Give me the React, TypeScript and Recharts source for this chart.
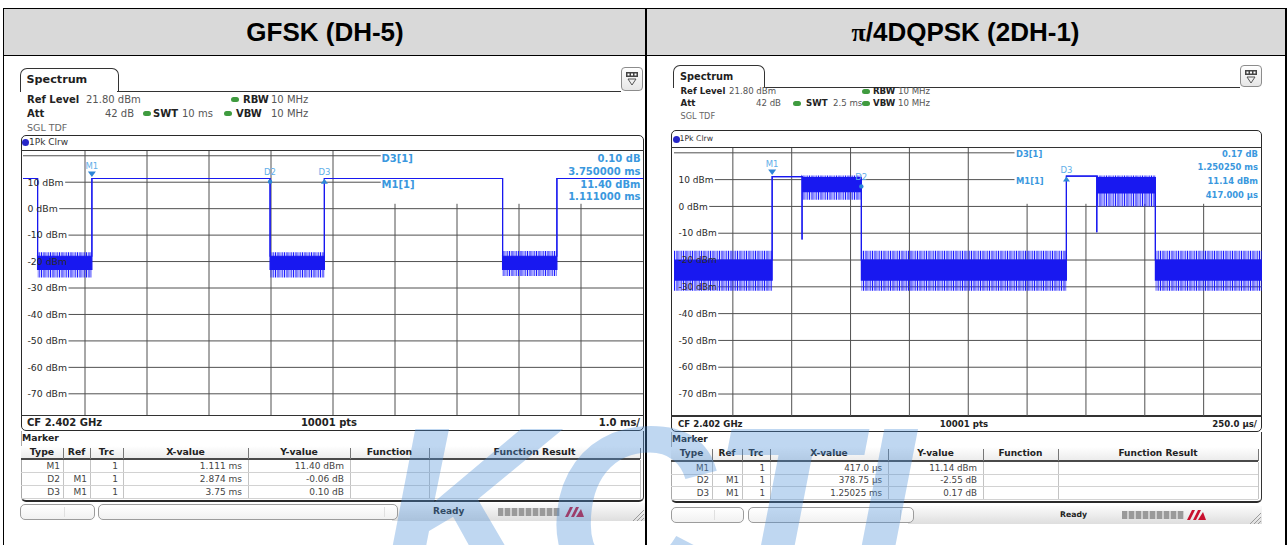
import React from 'react'
import { ComposedChart, Area, XAxis, YAxis, ReferenceLine, ReferenceDot } from 'recharts'

const FONT = '"DejaVu Sans", Verdana, sans-serif'
const TRACE = '#1818f0'
const GRID = '#505050'
const INFO = '#3a98de'
const MARK_SYM = '#2f86d6'
const MARK_TXT = '#62aee8'

// both screens: ref level 21.80 dBm, 10 dB/div
const levelDomain = [-78.2, 21.8]
const dbTicks = [10, 0, -10, -20, -30, -40, -50, -60, -70]
const gridLevels = [20, ...dbTicks]

// GFSK (DH-5), zero span, 1.0 ms/div
const gfskTime = [0, 0.235, 0.235, 1.111, 1.111, 3.985, 3.985, 4.861, 4.861, 7.735, 7.735, 8.611, 8.611, 10]
const gfskCoreLow = [11.4, 11.4, -23, -23, 11.4, 11.4, -23, -23, 11.4, 11.4, -23, -23, 11.4, 11.4]
const gfskCoreHigh = [11.4, 11.4, -18, -18, 11.4, 11.4, -18, -18, 11.4, 11.4, -18, -18, 11.4, 11.4]
const gfskPeakLow = [11.4, 11.4, -26, -26, 11.4, 11.4, -26, -26, 11.4, 11.4, -25.5, -25.5, 11.4, 11.4]
const gfskPeakHigh = [11.4, 11.4, -16.5, -16.5, 11.4, 11.4, -16.5, -16.5, 11.4, 11.4, -16, -16, 11.4, 11.4]
const gfskMarkNames = ['M1', 'D2', 'D3']
const gfskMarkTime = [1.111, 3.985, 4.861]
const gfskMarkLevel = [11.4, 11.34, 11.5]
const gfskInfo = ['D3[1]', 'M1[1]', '0.10 dB', '3.750000 ms', '11.40 dBm', '1.111000 ms']
const gfskRows = [
  ['M1', '', '1', '1.111 ms', '11.40 dBm'],
  ['D2', 'M1', '1', '2.874 ms', '-0.06 dB'],
  ['D3', 'M1', '1', '3.75 ms', '0.10 dB'],
]

// pi/4DQPSK (2DH-1), zero span, 250 us/div (time in ms)
const qpskTime = [0, 0.417, 0.417, 0.544, 0.544, 0.544, 0.546, 0.796, 0.796, 1.667, 1.667, 1.796, 1.796, 1.796, 1.798, 2.045, 2.045, 2.5]
const qpskCoreLow = [-27.5, -27.5, 11.14, 11.14, -12.3, 11.1, 5.5, 5.5, -27.5, -27.5, 11.31, 11.31, -9.6, 11.3, 5, 5, -27.5, -27.5]
const qpskCoreHigh = [-20, -20, 11.14, 11.14, -12.3, 11.1, 10.8, 10.8, -20, -20, 11.31, 11.31, -9.6, 11.3, 10.8, 10.8, -20, -20]
const qpskPeakLow = [-31.5, -31.5, 11.14, 11.14, -12.3, 11.1, 2.5, 2.5, -31.5, -31.5, 11.31, 11.31, -9.6, 11.3, 0, 0, -31.5, -31.5]
const qpskPeakHigh = [-16.5, -16.5, 11.14, 11.14, -12.3, 11.1, 11.5, 11.5, -16.5, -16.5, 11.31, 11.31, -9.6, 11.3, 11.5, 11.5, -16.5, -16.5]
const qpskMarkNames = ['M1', 'D2', 'D3']
const qpskMarkTime = [0.417, 0.79575, 1.66725]
const qpskMarkLevel = [11.14, 8.59, 11.31]
const qpskInfo = ['D3[1]', 'M1[1]', '0.17 dB', '1.250250 ms', '11.14 dBm', '417.000 µs']
const qpskRows = [
  ['M1', '', '1', '417.0 µs', '11.14 dBm'],
  ['D2', 'M1', '1', '378.75 µs', '-2.55 dB'],
  ['D3', 'M1', '1', '1.25025 ms', '0.17 dB'],
]

const tableHeads = ['Type', 'Ref', 'Trc', 'X-value', 'Y-value', 'Function', 'Function Result']

const buildTrace = (time: number[], cl: number[], ch: number[], pl: number[], ph: number[]) =>
  time.map((t, i) => ({ t, core: [cl[i], ch[i]], peak: [pl[i], ph[i]] }))

const gfskData = buildTrace(gfskTime, gfskCoreLow, gfskCoreHigh, gfskPeakLow, gfskPeakHigh)
const qpskData = buildTrace(qpskTime, qpskCoreLow, qpskCoreHigh, qpskPeakLow, qpskPeakHigh)

// screen geometry (page pixels)
const leftGeo = {
  fs: 10, tick: 9.3, info: 10, tbl: 9.3,
  tab: { x: 19.5, y: 68, w: 99, h: 23 }, lineEnd: 621,
  icon: { x: 621, y: 66.5, w: 22, h: 24 },
  rows: [99.3, 113.3, 128],
  refV: 86, rbwDot: 235, rbw: 243, rbwV: 271, attR: 134, swtDot: 147, swt: 153, swtV: 182, vbwDot: 228, vbw: 236, vbwV: 271,
  frame: { x: 20.5, y: 135, w: 623, h: 295.5 }, trcY: 142.5,
  grid: { x: 22.5, y: 150.5, w: 620, h: 264.5 },
  cfY: 422.8, cfX: 27, ptsX: 329, divR: 640,
  markY: 438.5, head: [445.5, 459.5], rowH: 13, bottom: 501.5,
  cols: [21, 63, 90, 123, 248, 350, 429, 640],
  st: { y: 504, h: 16, b1: [20, 95], b2: [98, 398], ready: 433, prog: 498, logo: 562, right: 645 },
  infoX: 381.5, infoR: 640.5, infoY: [158.3, 171, 184, 196.7],
  xMax: 10, xStep: 1, boxStart: 5.77, boxBottom: 1.84,
}

const rightGeo = {
  fs: 8.6, tick: 9, info: 8.4, tbl: 9,
  tab: { x: 673, y: 65, w: 92, h: 22 }, lineEnd: 1240,
  icon: { x: 1240, y: 64.5, w: 22, h: 22 },
  rows: [91.7, 103.3, 116.7],
  refV: 729, rbwDot: 866, rbw: 873, rbwV: 898, attR: 781, swtDot: 797, swt: 806, swtV: 833, vbwDot: 866, vbw: 873, vbwV: 898,
  frame: { x: 671, y: 130, w: 591, h: 301.5 }, trcY: 139,
  grid: { x: 673.5, y: 147.5, w: 588.5, h: 268 },
  cfY: 424.5, cfX: 678, ptsX: 964, divR: 1257,
  markY: 440, head: [447, 461.5], rowH: 12.5, bottom: 503,
  cols: [671, 712, 742, 770, 888, 983, 1058, 1258],
  st: { y: 506.5, h: 16.5, b1: [671, 744], b2: [748, 914], ready: 1060, prog: 1122, logo: 1184, right: 1262 },
  infoX: 1016, infoR: 1258, infoY: [154.3, 167.7, 181.7, 195],
  xMax: 2.5, xStep: 0.25, boxStart: 1.4465, boxBottom: 0.98,
}

const CW: Record<string, number> = { '-': 0.361, ' ': 0.318, d: 0.635, B: 0.686, m: 0.974 }
const textW = (s: string, fs: number) => [...s].reduce((a, ch) => a + (CW[ch] ?? 0.636) * fs, 0)

function Txt({ x, y, s, children, align = 'l', bold = false, color = '#222', family = FONT, w = 400 }: any) {
  const h = s * 1.3
  const base: React.CSSProperties = {
    position: 'absolute', top: y - h / 2, height: h, lineHeight: `${h}px`, fontSize: s,
    fontFamily: family, fontWeight: bold ? 'bold' : 'normal', color, whiteSpace: 'nowrap',
  }
  if (align === 'r') return <div style={{ ...base, left: x - w, width: w, textAlign: 'right' }}>{children}</div>
  if (align === 'c') return <div style={{ ...base, left: x - w / 2, width: w, textAlign: 'center' }}>{children}</div>
  return <div style={{ ...base, left: x }}>{children}</div>
}

const box = (x: number, y: number, w: number, h: number, style: React.CSSProperties = {}) => (
  <div style={{ position: 'absolute', left: x, top: y, width: w, height: h, boxSizing: 'border-box', ...style }} />
)

function Glyph({ cx, cy, name }: any) {
  if (cx == null || cy == null) return null
  if (name === 'M1') {
    return (
      <g>
        <path d={`M${cx - 4},${cy - 7} L${cx + 4},${cy - 7} L${cx},${cy - 1.5} Z`} fill={MARK_SYM} />
        <text x={cx} y={cy - 10} textAnchor="middle" fontSize={8.5} fill={MARK_TXT} fontFamily={FONT}>M1</text>
      </g>
    )
  }
  return (
    <g>
      {name === 'D3'
        ? <path d={`M${cx - 3.5},${cy + 5.5} L${cx + 3.5},${cy + 5.5} L${cx},${cy + 0.5} Z`} fill={MARK_SYM} />
        : <circle cx={cx} cy={cy + 3} r={2.2} fill={MARK_SYM} />}
      <text x={cx} y={cy - 3.5} textAnchor="middle" fontSize={8.5} fill={MARK_TXT} fontFamily={FONT}>{name}</text>
    </g>
  )
}

function Screen({ id, g, data, names, times, levels, info, rows, swt, perDiv }: any) {
  const { grid, st } = g
  const span = g.xMax
  const toX = (px: number) => (px / grid.w) * span
  const hLines = gridLevels.map(v => {
    const from = v === 20 ? 0 : toX(4.5 + textW(`${v} dBm`, g.tick) + 1.5)
    const to = v >= 10 ? g.boxStart : span
    return (
      <ReferenceLine key={`h${v}`} segment={[{ x: from, y: v }, { x: to, y: v }]}
        stroke={GRID} strokeWidth={1} ifOverflow="visible" zIndex={-50} />
    )
  })
  const vLines = [1, 2, 3, 4, 5, 6, 7, 8, 9].map(k => {
    const t = k * g.xStep
    const top = t > g.boxStart ? g.boxBottom : levelDomain[1]
    return (
      <ReferenceLine key={`v${k}`} segment={[{ x: t, y: top }, { x: t, y: levelDomain[0] }]}
        stroke={GRID} strokeWidth={1} ifOverflow="visible" zIndex={-50} />
    )
  })
  const c = g.cols
  const [hTop, hBot] = g.head
  const pads = [3, 3, 5, 6, 6]
  const fr = g.frame

  return (
    <>
      {/* tab and title line */}
      {box(g.tab.x, g.tab.y, g.tab.w, g.tab.h + 1, { border: '1.5px solid #333', borderBottom: 'none', borderRadius: '7px 7px 0 0', background: '#fff' })}
      {box(g.tab.x + g.tab.w - 1.5, g.tab.y + g.tab.h - 0.5, g.lineEnd - g.tab.x - g.tab.w + 1.5, 1.5, { background: '#333' })}
      <Txt x={g.tab.x + 7} y={g.tab.y + g.tab.h / 2 + 1} s={g.fs + 1.2} bold color="#1e1e1e">Spectrum</Txt>
      {box(g.icon.x, g.icon.y, g.icon.w, g.icon.h, { border: '1px solid #8c8c8c', borderRadius: 4, background: 'linear-gradient(#ffffff, #e6e6e6)' })}
      <svg style={{ position: 'absolute', left: g.icon.x, top: g.icon.y }} width={g.icon.w} height={g.icon.h}>
        <rect x={g.icon.w / 2 - 6} y={5} width={12} height={5} fill="#444" />
        <rect x={g.icon.w / 2 - 4.5} y={6.5} width={2} height={2} fill="#fff" />
        <rect x={g.icon.w / 2 - 1} y={6.5} width={2} height={2} fill="#fff" />
        <rect x={g.icon.w / 2 + 2.5} y={6.5} width={2} height={2} fill="#fff" />
        <path d={`M${g.icon.w / 2 - 4},${12} L${g.icon.w / 2 + 4},${12} L${g.icon.w / 2},${18} Z`} fill="none" stroke="#555" strokeWidth={1} />
      </svg>

      {/* setting lines */}
      <Txt x={g.tab.x + 7.5} y={g.rows[0]} s={g.fs} bold>Ref Level</Txt>
      <Txt x={g.refV} y={g.rows[0]} s={g.fs} color="#555">21.80 dBm</Txt>
      {box(g.rbwDot - 4, g.rows[0] - 2.5, 8, 5, { background: '#3f9b3f', borderRadius: 3 })}
      <Txt x={g.rbw} y={g.rows[0]} s={g.fs} bold>RBW</Txt>
      <Txt x={g.rbwV} y={g.rows[0]} s={g.fs} color="#555">10 MHz</Txt>
      <Txt x={g.tab.x + 7.5} y={g.rows[1]} s={g.fs} bold>Att</Txt>
      <Txt x={g.attR} y={g.rows[1]} s={g.fs} color="#555" align="r">42 dB</Txt>
      {box(g.swtDot - 4, g.rows[1] - 2.5, 8, 5, { background: '#3f9b3f', borderRadius: 3 })}
      <Txt x={g.swt} y={g.rows[1]} s={g.fs} bold>SWT</Txt>
      <Txt x={g.swtV} y={g.rows[1]} s={g.fs} color="#555">{swt}</Txt>
      {box(g.vbwDot - 4, g.rows[1] - 2.5, 8, 5, { background: '#3f9b3f', borderRadius: 3 })}
      <Txt x={g.vbw} y={g.rows[1]} s={g.fs} bold>VBW</Txt>
      <Txt x={g.vbwV} y={g.rows[1]} s={g.fs} color="#555">10 MHz</Txt>
      <Txt x={g.tab.x + 7.5} y={g.rows[2]} s={g.fs * 0.95} color="#666">SGL TDF</Txt>

      {/* diagram frame */}
      {box(fr.x, fr.y, fr.w, fr.h, { border: '1.5px solid #2a2a2a', borderRadius: 5, background: '#fff' })}
      {box(fr.x, grid.y - 1, fr.w, 1.5, { background: '#333' })}
      {box(fr.x, grid.y + grid.h - 0.5, fr.w, 1.5, { background: '#333' })}
      <div style={{ position: 'absolute', left: fr.x + 1.5, top: g.trcY - 3.5, width: 7, height: 7, borderRadius: 4, background: '#2626c8' }} />
      <Txt x={fr.x + 8.5} y={g.trcY} s={g.fs * 0.9} color="#333">1Pk Clrw</Txt>

      <div style={{ position: 'absolute', left: grid.x, top: grid.y }}>
        <ComposedChart width={grid.w} height={grid.h} data={data} margin={{ top: 0, right: 0, bottom: 0, left: 0 }}>
          <defs>
            <pattern id={`hair-${id}`} width={9} height={20} patternUnits="userSpaceOnUse">
              <rect x={0} y={0} width={1} height={20} fill="#1c1cff" />
              <rect x={1.8} y={0} width={0.8} height={20} fill="#1c1cff" />
              <rect x={3.4} y={0} width={1.1} height={20} fill="#1c1cff" />
              <rect x={5.6} y={0} width={0.8} height={20} fill="#1c1cff" />
              <rect x={7.3} y={0} width={0.9} height={20} fill="#1c1cff" />
            </pattern>
          </defs>
          <XAxis type="number" dataKey="t" domain={[0, span]} hide allowDataOverflow />
          <YAxis type="number" domain={levelDomain} ticks={dbTicks} interval={0} mirror allowDataOverflow
            axisLine={false} tickLine={false}
            tick={(p: any) => (
              <text x={4.5} y={p.y} dy={g.tick * 0.36} fontSize={g.tick} fontFamily={FONT} fill="#2a2a2a">{`${p.payload.value} dBm`}</text>
            )} />
          {hLines}
          {vLines}
          <Area dataKey="peak" type="linear" stroke="none" fill={`url(#hair-${id})`} fillOpacity={1}
            isAnimationActive={false} dot={false} activeDot={false} zIndex={600} />
          <Area dataKey="core" type="linear" stroke={TRACE} strokeWidth={1.2} fill={TRACE} fillOpacity={1}
            isAnimationActive={false} dot={false} activeDot={false} zIndex={650} />
          {names.map((n: string, i: number) => (
            <ReferenceDot key={n} x={times[i]} y={levels[i]} r={3} ifOverflow="visible" zIndex={700}
              shape={(p: any) => <Glyph {...p} name={n} />} />
          ))}
        </ComposedChart>
      </div>

      {/* marker readout over the diagram */}
      <Txt x={g.infoX} y={g.infoY[0]} s={g.info} bold color={INFO}>{info[0]}</Txt>
      <Txt x={g.infoX} y={g.infoY[2]} s={g.info} bold color={INFO}>{info[1]}</Txt>
      {[2, 3, 4, 5].map(k => (
        <Txt key={k} x={g.infoR} y={g.infoY[k - 2]} s={g.info} bold color={INFO} align="r">{info[k]}</Txt>
      ))}

      {/* bottom line of the diagram */}
      <Txt x={g.cfX} y={g.cfY} s={g.fs} bold color="#222">CF 2.402 GHz</Txt>
      <Txt x={g.ptsX} y={g.cfY} s={g.fs} bold color="#222" align="c">10001 pts</Txt>
      <Txt x={g.divR} y={g.cfY} s={g.fs} bold color="#222" align="r">{perDiv}</Txt>

      {/* marker table */}
      {box(fr.x, fr.y + fr.h, fr.w, g.bottom - fr.y - fr.h, { borderLeft: '1px solid #aaa', borderRight: '1.5px solid #333', borderBottom: '2px solid #2a2a2a', borderRadius: '0 0 5px 5px' })}
      <Txt x={c[0] + 1} y={g.markY} s={g.tbl} bold color="#222">Marker</Txt>
      {box(c[0], hTop, c[7] - c[0], hBot - hTop, { background: 'linear-gradient(#ffffff, #ececec)', borderBottom: '2px solid #4a4a4a' })}
      {tableHeads.map((h, i) => (
        <Txt key={h} x={(c[i] + c[i + 1]) / 2} y={(hTop + hBot) / 2} s={g.tbl} bold color="#222" align="c" w={c[i + 1] - c[i]}>{h}</Txt>
      ))}
      {c.slice(1).map((x: number, i: number) => (
        <React.Fragment key={`c${i}`}>
          {box(x - 0.5, hTop + 2, 1, hBot - hTop - 3, { background: '#777' })}
          {box(x - 0.5, hBot, 1, g.rowH * 3, { background: '#c4c4c4' })}
        </React.Fragment>
      ))}
      {[1, 2, 3].map(r => <React.Fragment key={`r${r}`}>{box(c[0], hBot + r * g.rowH - 0.5, c[7] - c[0], 1, { background: '#d2d2d2' })}</React.Fragment>)}
      {rows.map((row: string[], r: number) => row.map((cell: string, i: number) => (
        <Txt key={`${r}-${i}`} x={c[i + 1] - pads[i]} y={hBot + (r + 0.5) * g.rowH + 0.5} s={g.tbl * 0.97} color="#444" align="r">{cell}</Txt>
      )))}

      {/* status bar */}
      {box(st.b2[1] - 6, st.y - 1, st.right - st.b2[1] + 6, st.h + 2, { background: 'linear-gradient(#fbfbfb, #dedede)', borderRadius: '6px 0 0 0' })}
      {box(st.b1[0], st.y, st.b1[1] - st.b1[0], st.h, { border: '1px solid #9c9c9c', borderRadius: 5, background: 'linear-gradient(#ffffff, #f1f1f1)' })}
      {box(st.b2[0], st.y, st.b2[1] - st.b2[0], st.h, { border: '1px solid #9c9c9c', borderRadius: 5, background: 'linear-gradient(#ffffff, #f1f1f1)' })}
      {box((st.b1[0] + st.b1[1]) / 2 + 6, st.y + 3, 1, st.h - 6, { background: '#e0e0e0' })}
      {box(st.b2[1] - 14, st.y + 3, 1, st.h - 6, { background: '#e0e0e0' })}
      <Txt x={st.ready} y={st.y + st.h / 2} s={g.fs * 0.9} bold color="#222">Ready</Txt>
      {box(st.prog, st.y + st.h / 2 - 4, 62, 8, { background: 'repeating-linear-gradient(90deg, #9a9a9a 0 5px, #cfcfcf 5px 7px)' })}
      <svg style={{ position: 'absolute', left: st.logo, top: st.y + st.h / 2 - 6 }} width={24} height={12}>
        <path d="M3,11 L8,1 L11,1 L6,11 Z M9,11 L14,1 L17,1 L12,11 Z M14,11 L19,3 L22,11 Z" fill="#c8102e" />
      </svg>
      <svg style={{ position: 'absolute', left: st.right - 14, top: st.y + st.h - 12 }} width={14} height={14}>
        <path d="M13,2 L2,13 M13,6 L6,13 M13,10 L10,13" stroke="#9a9a9a" strokeWidth={1} />
      </svg>
    </>
  )
}

export default function App() {
  return (
    <div style={{ position: 'absolute', left: 0, top: 0, width: 1288, height: 545, overflow: 'hidden', background: '#fff' }}>
      {/* table frame */}
      {box(3, 8, 1283, 47.5, { background: '#d9d9d9' })}
      {box(2.5, 7.5, 1284, 1.5, { background: '#000' })}
      {box(2.5, 54.5, 1284, 1.5, { background: '#000' })}
      {box(2.5, 7.5, 1.5, 540, { background: '#000' })}
      {box(1285, 7.5, 1.5, 540, { background: '#000' })}
      {box(645, 7.5, 1.5, 540, { background: '#000' })}
      <Txt x={325} y={33} s={26} bold color="#000" family='"Liberation Sans", Arial, sans-serif' align="c" w={600}>GFSK (DH-5)</Txt>
      <Txt x={965.5} y={33} s={26} bold color="#000" family='"Liberation Sans", Arial, sans-serif' align="c" w={600}>
        <span style={{ fontFamily: '"Liberation Serif", serif' }}>π</span>/4DQPSK (2DH-1)
      </Txt>

      <Screen id="gfsk" g={leftGeo} data={gfskData} names={gfskMarkNames} times={gfskMarkTime} levels={gfskMarkLevel}
        info={gfskInfo} rows={gfskRows} swt="10 ms" perDiv="1.0 ms/" />
      <Screen id="qpsk" g={rightGeo} data={qpskData} names={qpskMarkNames} times={qpskMarkTime} levels={qpskMarkLevel}
        info={qpskInfo} rows={qpskRows} swt="2.5 ms" perDiv="250.0 µs/" />

      {/* lab watermark */}
      <svg style={{ position: 'absolute', left: 0, top: 0, pointerEvents: 'none' }} width={1288} height={545}>
        <text x={380} y={590} fontSize={234} fontFamily='"Liberation Sans", Arial, sans-serif' fontWeight="bold"
          fontStyle="italic" fill="#4d8fd8" fillOpacity={0.36} letterSpacing={-4}>KCTL</text>
      </svg>
    </div>
  )
}
